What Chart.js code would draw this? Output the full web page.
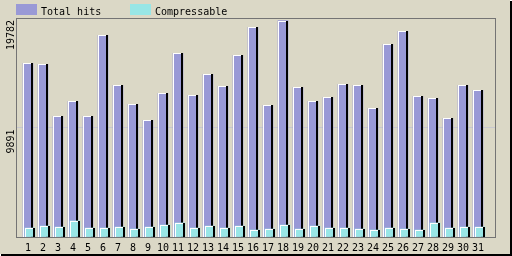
<!DOCTYPE html>
<html>
<head>
<meta charset="utf-8">
<script src="https://cdn.jsdelivr.net/npm/chart.js@4/dist/chart.umd.min.js"></script>
<style>
    html, body { margin: 0; padding: 0; background: #ffffff; }
    #wrap { width: 512px; height: 256px; }
</style>
</head>
<body>
<div id="wrap"><canvas id="hitsChart" width="512" height="256"></canvas></div>
<script>

// ---------------- DATA ----------------

const days = [
    1, 2, 3, 4, 5, 6, 7, 8, 9, 10,
    11, 12, 13, 14, 15, 16, 17, 18, 19, 20,
    21, 22, 23, 24, 25, 26, 27, 28, 29, 30, 31
];

const totalHits = [
    15690, 15600, 10900, 12260, 10900, 18220, 13700, 11990, 10540, 12980,
    16590, 12800, 14700, 13610, 16410, 18940, 11900, 19540, 13520, 12260,
    12620, 13790, 13700, 11630, 17410, 18580, 12710, 12530, 10720, 13700, 13250
];

const compressable = [
    810, 990, 900, 1450, 810, 810, 900, 720, 900, 1080,
    1270, 810, 990, 810, 990, 630, 720, 1080, 720, 990,
    810, 810, 720, 630, 810, 720, 630, 1270, 810, 900, 900
];

const yTicks = [0, 9891, 19782];

const seriesNames = ["Total hits", "Compressable"];

// ---------------- STYLE ----------------

const bgColor = "#dbd8c6";
const purple = "#9999d6";
const cyan = "#98e6e6";
const frameColor = "#747474";
const gridColor = "#c8c8cf";
const monoFont = "10px 'DejaVu Sans Mono', monospace";

// ---------------- PLUGINS ----------------

const backdrop = {
    id: "backdrop",
    beforeDraw(chart) {
        const ctx = chart.ctx;
        ctx.save();
        ctx.fillStyle = "#000000";
        ctx.fillRect(510, 1, 2, 255);
        ctx.fillRect(1, 254, 511, 2);
        ctx.fillStyle = bgColor;
        ctx.fillRect(0, 0, 510, 254);
        ctx.restore();
    }
};

// white top/left and black right edge on every bar
const bevel = {
    id: "bevel",
    afterDatasetDraw(chart, args) {
        const ctx = chart.ctx;
        ctx.save();
        args.meta.data.forEach(bar => {
            const p = bar.getProps(["x", "y", "base", "width"], true);
            const left = Math.round(p.x - p.width / 2);
            const top = Math.round(p.y);
            const h = Math.round(p.base) - top;
            ctx.fillStyle = "#ffffff";
            ctx.fillRect(left, top, 1, h);
            ctx.fillRect(left, top, p.width - 2, 1);
            ctx.fillStyle = "#000000";
            ctx.fillRect(left + p.width - 2, top, 2, h);
        });
        ctx.restore();
    }
};

const frameAndLabels = {
    id: "frameAndLabels",
    afterDraw(chart) {
        const ctx = chart.ctx;
        const area = chart.chartArea;
        const yScale = chart.scales.y;

        ctx.save();

        ctx.strokeStyle = frameColor;
        ctx.lineWidth = 1;
        ctx.strokeRect(area.left + 0.5, area.top + 0.5,
            area.right - area.left - 1, area.bottom - area.top);

        // rotated value labels on the left
        ctx.fillStyle = "#000000";
        ctx.font = monoFont;
        ctx.textAlign = "right";
        ctx.textBaseline = "alphabetic";
        yTicks.filter(v => v > 0).forEach(v => {
            const py = yScale.getPixelForValue(v);
            ctx.save();
            ctx.translate(14, py + 2);
            ctx.rotate(-Math.PI / 2);
            ctx.fillText(String(v), 0, 0);
            ctx.restore();
        });

        // legend
        const swatches = [[16, 41], [130, 155]];
        chart.data.datasets.forEach((ds, i) => {
            const [bx, tx] = swatches[i];
            ctx.fillStyle = ds.backgroundColor;
            ctx.fillRect(bx, 4, 21, 11);
            ctx.fillStyle = "#000000";
            ctx.textAlign = "left";
            ctx.fillText(ds.label, tx, 15);
        });

        ctx.restore();
    }
};

// ---------------- CHART ----------------

new Chart(
    document.getElementById("hitsChart"),
    {
        type: "bar",

        data: {
            datasets: [
                {
                    label: seriesNames[0],
                    data: days.map((d, i) => ({ x: d, y: totalHits[i] })),
                    backgroundColor: purple,
                    xAxisID: "x",
                    order: 2
                },
                {
                    label: seriesNames[1],
                    data: days.map((d, i) => ({ x: d, y: compressable[i] })),
                    backgroundColor: cyan,
                    xAxisID: "x2",
                    order: 1
                }
            ]
        },

        options: {
            responsive: false,
            animation: false,
            devicePixelRatio: 1,
            events: [],

            layout: {
                padding: { left: 0, top: 18, right: 16, bottom: 0 }
            },

            datasets: {
                bar: {
                    barThickness: 10,
                    grouped: false,
                    borderWidth: 0
                }
            },

            plugins: {
                legend: { display: false },
                tooltip: { enabled: false }
            },

            scales: {
                x: {
                    type: "linear",
                    offset: false,
                    min: 0.2,
                    max: 32.2,
                    afterBuildTicks: scale => {
                        scale.ticks = days.map(d => ({ value: d }));
                    },
                    afterFit: scale => { scale.height = 19; },
                    grid: { display: false, drawTicks: false, offset: false },
                    border: { display: false },
                    ticks: {
                        color: "#000000",
                        padding: 5,
                        maxRotation: 0,
                        autoSkip: false,
                        font: { family: "'DejaVu Sans Mono', monospace", size: 10 }
                    }
                },
                x2: {
                    type: "linear",
                    display: false,
                    offset: false,
                    grid: { offset: false },
                    min: 0.2 - 2 / 15,
                    max: 32.2 - 2 / 15
                },
                y: {
                    min: 0,
                    max: yTicks[yTicks.length - 1],
                    afterBuildTicks: scale => {
                        scale.ticks = yTicks.map(v => ({ value: v }));
                    },
                    afterFit: scale => { scale.width = 16; },
                    grid: { color: gridColor, lineWidth: 1, drawTicks: false },
                    border: { display: false },
                    ticks: { display: false }
                }
            }
        },

        plugins: [backdrop, bevel, frameAndLabels]
    }
);

</script>
</body>
</html>
